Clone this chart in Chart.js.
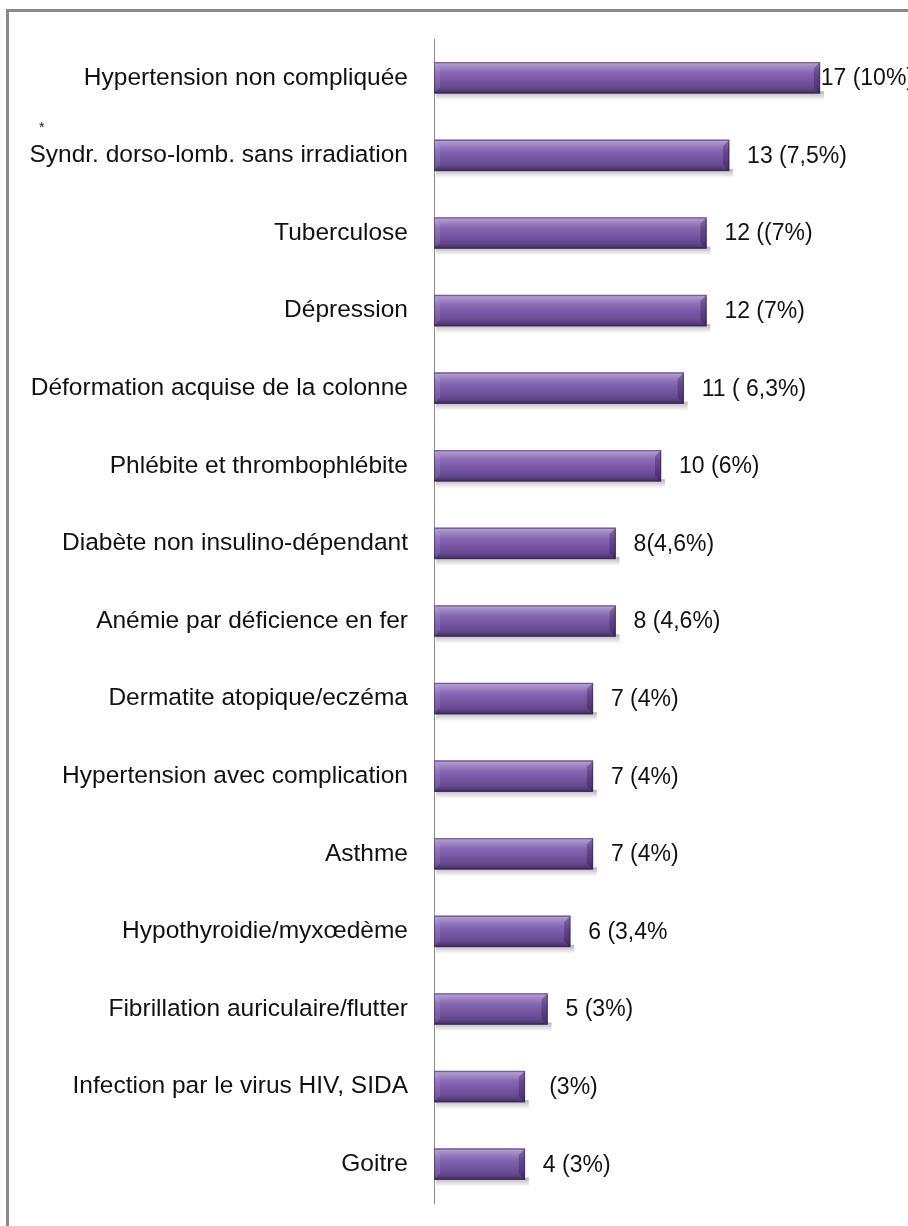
<!DOCTYPE html>
<html lang="fr">
<head>
<meta charset="utf-8">
<title>Problèmes chroniques</title>
<script src="https://cdn.jsdelivr.net/npm/chart.js@4/dist/chart.umd.min.js"></script>
<style>
  html, body { margin: 0; padding: 0; background: #fff; overflow: hidden; }
  #wrap { position: relative; width: 908px; height: 1226px; }
</style>
</head>
<body>
<div id="wrap"><canvas id="diagChart" width="908" height="1226"></canvas></div>
<script>
// ── Data ──────────────────────────────────────────────────────────────────────
const DIAGNOSES = [
  'Hypertension non compliquée',
  'Syndr. dorso-lomb. sans irradiation',
  'Tuberculose',
  'Dépression',
  'Déformation acquise de la colonne',
  'Phlébite et thrombophlébite',
  'Diabète non insulino-dépendant',
  'Anémie par déficience en fer',
  'Dermatite atopique/eczéma',
  'Hypertension avec complication',
  'Asthme',
  'Hypothyroidie/myxœdème',
  'Fibrillation auriculaire/flutter',
  'Infection par le virus HIV, SIDA',
  'Goitre',
];
const COUNTS = [17, 13, 12, 12, 11, 10, 8, 8, 7, 7, 7, 6, 5, 4, 4];
const VALUE_LABELS = [
  '17 (10%)', '13 (7,5%)', '12 ((7%)', '12 (7%)', '11 ( 6,3%)', '10 (6%)',
  '8(4,6%)', '8 (4,6%)', '7 (4%)', '7 (4%)', '7 (4%)', '6 (3,4%', '5 (3%)',
  ' (3%)', '4 (3%)',
];

const FONT = '"Liberation Sans Narrow", "Arial Narrow", "Liberation Sans", sans-serif';
const TEXT = '#111';

// ── Frame around the whole figure ────────────────────────────────────────────
const framePlugin = {
  id: 'frame',
  beforeDraw(chart) {
    const c = chart.ctx;
    c.save();
    c.strokeStyle = '#8a8a8a';
    c.lineWidth = 3;
    c.strokeRect(7.5, 10.5, chart.width + 20, chart.height + 20);
    // small asterisk above the second label
    c.fillStyle = TEXT;
    c.font = '14px ' + FONT;
    c.textAlign = 'left';
    c.textBaseline = 'middle';
    c.fillText('*', 39, 128);
    c.restore();
  },
};

// ── Bevel / shadow look on each bar ──────────────────────────────────────────
const bevelPlugin = {
  id: 'bevel',
  beforeDatasetsDraw(chart) {
    const c = chart.ctx;
    c.save();
    chart.getDatasetMeta(0).data.forEach(bar => {
      const { x, y, base, height } = bar.getProps(['x', 'y', 'base', 'height'], true);
      const top = y - height / 2;
      const g = c.createLinearGradient(0, top + height - 2, 0, top + height + 7);
      g.addColorStop(0, 'rgba(0,0,0,0.3)');
      g.addColorStop(1, 'rgba(0,0,0,0)');
      c.fillStyle = g;
      c.fillRect(base + 2, top + height - 2, x - base + 2, 9);
    });
    c.restore();
  },
  afterDatasetsDraw(chart) {
    const c = chart.ctx;
    c.save();
    chart.getDatasetMeta(0).data.forEach(bar => {
      const { x, y, base, height } = bar.getProps(['x', 'y', 'base', 'height'], true);
      const top = y - height / 2, bot = y + height / 2, w = x - base;
      const g = c.createLinearGradient(0, top, 0, bot);
      g.addColorStop(0,    '#bba8d6');
      g.addColorStop(0.12, '#a58cc6');
      g.addColorStop(0.32, '#8869b3');
      g.addColorStop(0.55, '#7857a5');
      g.addColorStop(0.8,  '#684a91');
      g.addColorStop(0.9,  '#573d7d');
      g.addColorStop(1,    '#412d60');
      c.fillStyle = g;
      c.fillRect(base, top, w, height);
      const b = 6;
      // left end, lit
      c.fillStyle = 'rgba(255,255,255,0.1)';
      c.beginPath();
      c.moveTo(base, top); c.lineTo(base + b, top + b);
      c.lineTo(base + b, bot - b); c.lineTo(base, bot); c.closePath(); c.fill();
      // right end, in shade
      c.fillStyle = 'rgba(30,10,60,0.3)';
      c.beginPath();
      c.moveTo(x, top); c.lineTo(x - b, top + b);
      c.lineTo(x - b, bot - b); c.lineTo(x, bot); c.closePath(); c.fill();
      c.strokeStyle = 'rgba(50,30,80,0.55)';
      c.lineWidth = 1;
      c.strokeRect(base + 0.5, top + 0.5, w - 1, height - 1);
    });
    c.restore();
  },
};

// ── Value labels to the right of each bar ────────────────────────────────────
const valueLabelPlugin = {
  id: 'valueLabels',
  afterDatasetsDraw(chart) {
    const c = chart.ctx;
    c.save();
    c.font = '23px ' + FONT;
    c.fillStyle = TEXT;
    c.textAlign = 'left';
    c.textBaseline = 'middle';
    chart.getDatasetMeta(0).data.forEach((bar, i) => {
      const { x, y } = bar.getProps(['x', 'y'], true);
      const txt = VALUE_LABELS[i];
      const w = c.measureText(txt).width;
      const lx = Math.min(x + 18, chart.width - w + 6);
      c.fillText(txt, lx, y + 1);
    });
    c.restore();
  },
};

// ── Chart ─────────────────────────────────────────────────────────────────────
const ctx = document.getElementById('diagChart').getContext('2d');
new Chart(ctx, {
  type: 'bar',
  data: {
    labels: DIAGNOSES,
    datasets: [{
      data: COUNTS,
      backgroundColor: '#7756a4',
      borderWidth: 0,
      barThickness: 31,
    }],
  },
  options: {
    indexAxis: 'y',
    responsive: false,
    animation: false,
    layout: { padding: { left: 0, right: 20, top: 39, bottom: 23 } },
    plugins: { legend: { display: false }, tooltip: { enabled: false } },
    scales: {
      x: {
        min: 0, max: 20,
        display: false,
      },
      y: {
        grid: { display: false },
        border: { display: true, color: '#8c8c8c', width: 1 },
        ticks: { color: TEXT, padding: 18, font: { family: FONT, size: 24.5 } },
        afterFit(scale) {
          scale.width = 434;
          scale.paddingTop = 0;
          scale.paddingBottom = 0;
        },
      },
    },
  },
  plugins: [framePlugin, bevelPlugin, valueLabelPlugin],
});
</script>
</body>
</html>
